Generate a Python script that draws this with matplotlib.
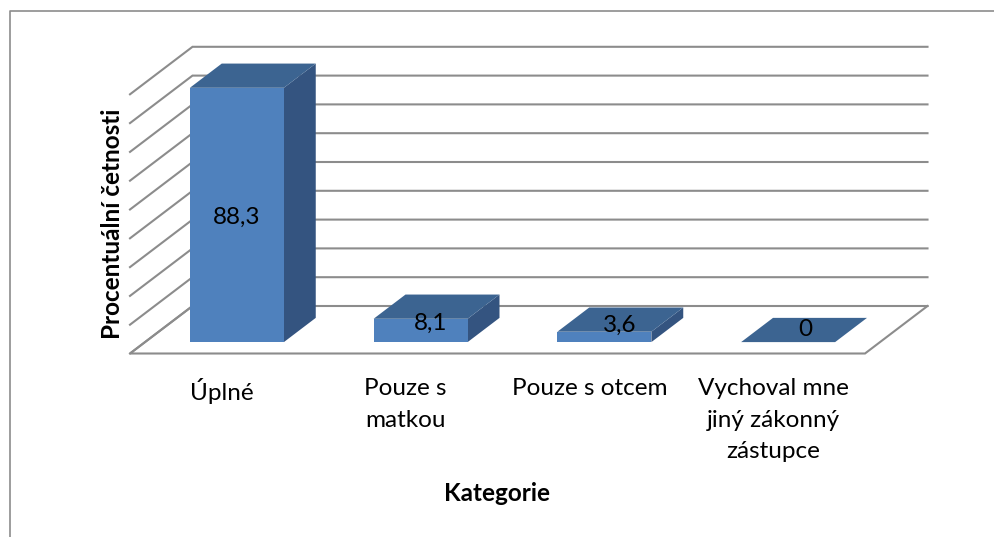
import numpy as np
from matplotlib import pyplot as plt
from matplotlib.patches import Polygon

categories = ['Úplné', 'Pouze s\nmatkou', 'Pouze s otcem', 'Vychoval mne\njiný zákonný\nzástupce']
values = [88.3, 8.1, 3.6, 0]
value_labels = ['88,3', '8,1', '3,6', '0']
grid_values = [0, 10, 20, 30, 40, 50, 60, 70, 80, 90]
x_title = 'Kategorie'
y_title = 'Procentuální četnosti'

#layout of the fake 3d box, pixels of the 995x537 picture
px_left, px_floor = 130, 353.5
px_per_cat, px_per_val = 183.75, 2.88
depth_x = 62.5 / px_per_cat
depth_y = 47.5 / px_per_val
bar_width = 94 / px_per_cat
bar_front, bar_back = 0.24, 0.75
#where excel left the data labels, as a share of the bar depth
label_depth = [0, 0.31, 0.47, 0.54]

grid_col = '#8c8c8c'
front_col, side_col, top_col = '#4f81bd', '#345480', '#3c6491'

plt.rcParams['font.family'] = ['Lato', 'DejaVu Sans']

def proj(x, v, d):
    return (x + d * depth_x, v + d * depth_y)

fig = plt.figure(figsize=(9.95, 5.37), dpi=100)
ax = fig.add_axes([0, 0, 1, 1])
ax.set_xlim(-px_left / px_per_cat, (995 - px_left) / px_per_cat)
ax.set_ylim((px_floor - 537) / px_per_val, px_floor / px_per_val)
ax.axis('off')

#outer frame, only top and left show
fig.add_artist(plt.Line2D([9.5 / 995, 9.5 / 995, 1], [0, 1 - 10.5 / 537, 1 - 10.5 / 537], color=grid_col, lw=1.2))

#walls
n = len(categories)
for g in grid_values:
    xs, ys = zip(proj(0, g, 0), proj(0, g, 1), proj(n, g, 1))
    ax.plot(xs, ys, color=grid_col, lw=1.5, zorder=1, solid_joinstyle='miter')
xs, ys = zip(proj(0, 0, 1), proj(0, 0, 0), proj(n, 0, 0), proj(n, 0, 1))
ax.plot(xs, ys, color=grid_col, lw=1.5, zorder=1, solid_joinstyle='miter')

#bars
for i, v in enumerate(values):
    x0 = i + 0.5 - bar_width / 2
    x1 = x0 + bar_width
    if v > 0:
        ax.add_patch(Polygon([proj(x1, 0, bar_front), proj(x1, 0, bar_back), proj(x1, v, bar_back), proj(x1, v, bar_front)], color=side_col, lw=0, zorder=2))
        ax.add_patch(Polygon([proj(x0, 0, bar_front), proj(x1, 0, bar_front), proj(x1, v, bar_front), proj(x0, v, bar_front)], color=front_col, lw=0, zorder=2))
    ax.add_patch(Polygon([proj(x0, v, bar_front), proj(x1, v, bar_front), proj(x1, v, bar_back), proj(x0, v, bar_back)], color=top_col, lw=0, zorder=2))

    d = bar_front + label_depth[i] * (bar_back - bar_front)
    lx, ly = proj(i + 0.5, v / 2, d)
    ax.text(lx, ly - (1 if i == 0 else 0), value_labels[i], ha='center', va='center', fontsize=17.5, color='black', zorder=3)

    ax.text(i + 0.5, -8.5, categories[i], ha='center', va='top', fontsize=17.5, color='black', linespacing=1.62)

ax.text(2.0, -48.5, x_title, ha='center', va='center', fontsize=17.5, fontweight='bold')
ax.text(-0.095, 45, y_title, ha='center', va='center', rotation=90, fontsize=17.5, fontweight='bold')

fig.savefig('out.png', dpi=100)
